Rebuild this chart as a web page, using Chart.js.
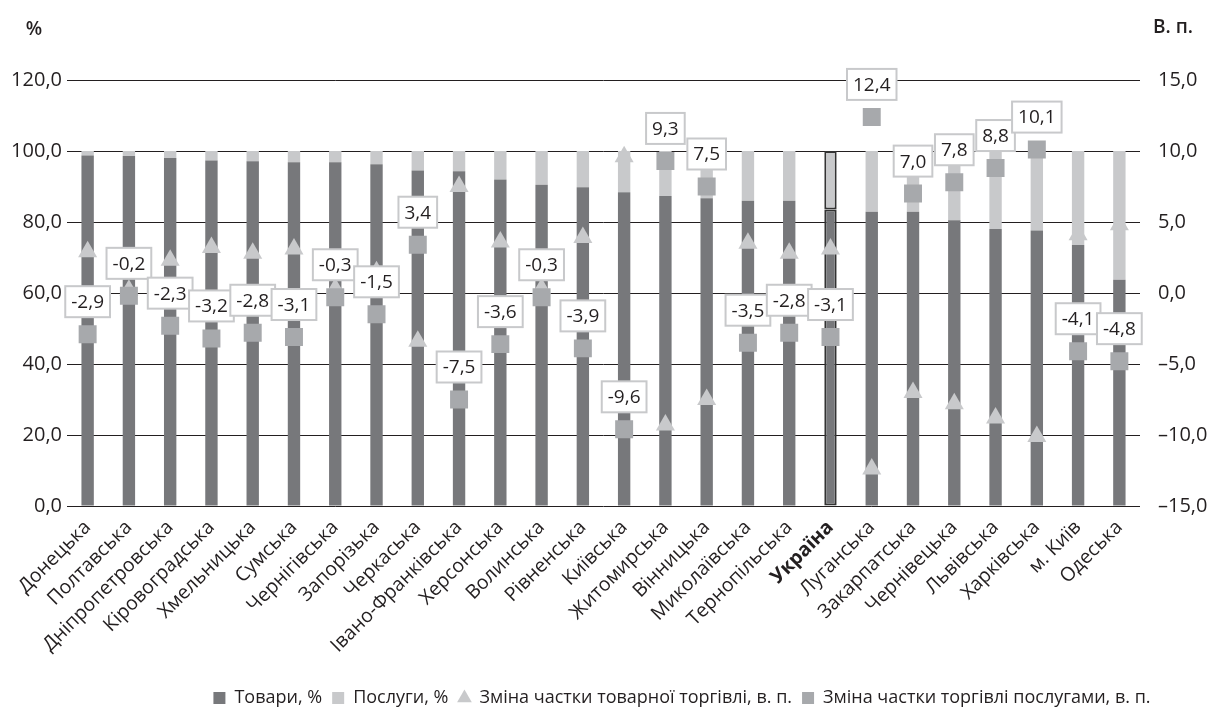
<!DOCTYPE html>
<html lang="uk">
<head>
<meta charset="utf-8">
<script src="https://cdn.jsdelivr.net/npm/chart.js@4/dist/chart.umd.min.js"></script>
<style>
  html, body { margin: 0; padding: 0; background: #fff; }
  #wrap { width: 1210px; height: 726px; }
</style>
</head>
<body>
<div id="wrap"><canvas id="chart" width="1210" height="726"></canvas></div>
<script>
// регіони
const regions = ['Донецька', 'Полтавська', 'Дніпропетровська', 'Кіровоградська', 'Хмельницька',
  'Сумська', 'Чернігівська', 'Запорізька', 'Черкаська', 'Івано-Франківська', 'Херсонська',
  'Волинська', 'Рівненська', 'Київська', 'Житомирська', 'Вінницька', 'Миколаївська',
  'Тернопільська', 'Україна', 'Луганська', 'Закарпатська', 'Чернівецька', 'Львівська',
  'Харківська', 'м. Київ', 'Одеська'];

// частка товарів, %
const goods = [98.7, 98.6, 98.0, 97.3, 97.1, 96.8, 96.8, 96.3, 94.5, 94.3, 92.0, 90.5, 89.8,
  88.4, 87.3, 86.7, 86.0, 86.0, 83.5, 82.9, 82.9, 80.5, 78.0, 77.6, 73.5, 63.7];
// частка послуг, %
const services = goods.map(v => +(100 - v).toFixed(1));

// зміна частки товарної торгівлі, в. п.
const goodsChange = [2.9, 0.2, 2.3, 3.2, 2.8, 3.1, 0.3, 1.5, -3.4, 7.5, 3.6, 0.3, 3.9, 9.6,
  -9.3, -7.5, 3.5, 2.8, 3.1, -12.4, -7.0, -7.8, -8.8, -10.1, 4.1, 4.8];
// зміна частки торгівлі послугами, в. п.
const servChange = [-2.9, -0.2, -2.3, -3.2, -2.8, -3.1, -0.3, -1.5, 3.4, -7.5, -3.6, -0.3, -3.9,
  -9.6, 9.3, 7.5, -3.5, -2.8, -3.1, 12.4, 7.0, 7.8, 8.8, 10.1, -4.1, -4.8];

const leftTicks = [0, 20, 40, 60, 80, 100, 120];
const rightTicks = [-15, -10, -5, 0, 5, 10, 15];

const FONT = "'Open Sans', 'Noto Sans', sans-serif";
const INK = '#231f20';
const DARK = '#77787b';
const LIGHT = '#c8c9cb';
const MID = '#a7a9ac';
const UA = regions.indexOf('Україна');

const fmt = v => v.toFixed(1).replace('.', ',');

// рамка для стовпчика "Україна"
const bw = regions.map((r, i) => i === UA ? 2 : 0);

// підписи значень послуг у рамках
const boxLabels = {
  id: 'boxLabels',
  afterDatasetsDraw(chart) {
    const ctx = chart.ctx;
    const meta = chart.getDatasetMeta(3);
    ctx.save();
    ctx.font = '19px ' + FONT;
    ctx.textAlign = 'center';
    ctx.textBaseline = 'middle';
    meta.data.forEach((pt, i) => {
      const txt = fmt(servChange[i]);
      const w = ctx.measureText(txt).width + 12;
      const h = 31;
      const x = pt.x - w / 2;
      const y = pt.y - 17 - h;
      ctx.fillStyle = '#fff';
      ctx.fillRect(x, y, w, h);
      ctx.strokeStyle = LIGHT;
      ctx.lineWidth = 2;
      ctx.strokeRect(x, y, w, h);
      ctx.fillStyle = INK;
      ctx.fillText(txt, pt.x, y + h / 2 + 1);
    });
    ctx.restore();
  }
};

// назви осей + зсув легенди вправо
const axisTitles = {
  id: 'axisTitles',
  afterLayout(chart) {
    chart.legend.left += 77;
    chart.legend.right += 77;
  },
  afterDraw(chart) {
    const ctx = chart.ctx;
    ctx.save();
    ctx.fillStyle = INK;
    ctx.textBaseline = 'middle';
    ctx.textAlign = 'center';
    ctx.font = '600 19px ' + FONT;
    ctx.fillText('%', 34, 30);
    ctx.fillText('В. п.', 1173, 28);
    ctx.restore();
  }
};

const legendStyles = ['rect', 'rect', 'triangle', 'rect'];
const legendColors = [DARK, LIGHT, LIGHT, MID];

new Chart(document.getElementById('chart'), {
  data: {
    labels: regions,
    datasets: [
      {
        type: 'bar', label: 'Товари, %', data: goods, yAxisID: 'y',
        backgroundColor: DARK, borderColor: '#333', borderWidth: bw, borderSkipped: false,
        barPercentage: 0.3, categoryPercentage: 1, order: 3
      },
      {
        type: 'bar', label: 'Послуги, %', data: services, yAxisID: 'y',
        backgroundColor: LIGHT, borderColor: '#333', borderWidth: bw, borderSkipped: false,
        barPercentage: 0.3, categoryPercentage: 1, order: 3
      },
      {
        type: 'line', label: 'Зміна частки товарної торгівлі, в. п.', data: goodsChange,
        yAxisID: 'y1', showLine: false, pointStyle: 'triangle', pointRadius: 11,
        pointBackgroundColor: LIGHT, pointBorderWidth: 0, backgroundColor: LIGHT, order: 2
      },
      {
        type: 'line', label: 'Зміна частки торгівлі послугами, в. п.', data: servChange,
        yAxisID: 'y1', showLine: false, pointStyle: 'rect', pointRadius: 12.7,
        pointBackgroundColor: MID, pointBorderWidth: 0, backgroundColor: MID, order: 1
      }
    ]
  },
  options: {
    responsive: false,
    animation: false,
    layout: { padding: { top: 80, right: 0, bottom: 9, left: 0 } },
    plugins: {
      tooltip: { enabled: false },
      legend: {
        position: 'bottom',
        align: 'center',
        labels: {
          usePointStyle: true,
          boxWidth: 12,
          boxHeight: 12,
          padding: 10,
          color: INK,
          font: { family: FONT, size: 18 },
          sort: (a, b) => a.datasetIndex - b.datasetIndex,
          generateLabels(chart) {
            const items = Chart.defaults.plugins.legend.labels.generateLabels(chart);
            items.forEach(it => {
              it.pointStyle = legendStyles[it.datasetIndex];
              it.lineWidth = 0;
              it.strokeStyle = 'rgba(0,0,0,0)';
              it.fillStyle = legendColors[it.datasetIndex];
            });
            return items;
          }
        }
      }
    },
    scales: {
      x: {
        stacked: true,
        grid: { display: false },
        border: { display: false },
        afterFit(s) { s.height = 173; },
        ticks: {
          color: INK,
          maxRotation: 45, minRotation: 45,
          autoSkip: false,
          padding: 2,
          font: c => ({ family: FONT, size: 19.5, weight: c.index === UA ? 'bold' : 'normal' })
        }
      },
      y: {
        stacked: true,
        position: 'left',
        min: 0, max: 120,
        afterBuildTicks(s) { s.ticks = leftTicks.map(v => ({ value: v })); },
        afterFit(s) { s.width = 67; },
        grid: { color: INK, lineWidth: 1, drawTicks: false },
        border: { display: false },
        ticks: { color: INK, padding: 5, font: { family: FONT, size: 20 }, callback: v => fmt(v) }
      },
      y1: {
        position: 'right',
        min: -15, max: 15,
        afterBuildTicks(s) { s.ticks = rightTicks.map(v => ({ value: v })); },
        afterFit(s) { s.width = 70; },
        grid: { display: false },
        border: { display: false },
        ticks: {
          color: INK, padding: 10, font: { family: FONT, size: 20 },
          callback: v => (v < 0 ? '–' + fmt(-v) : fmt(v))
        }
      }
    }
  },
  plugins: [boxLabels, axisTitles]
});
</script>
</body>
</html>
